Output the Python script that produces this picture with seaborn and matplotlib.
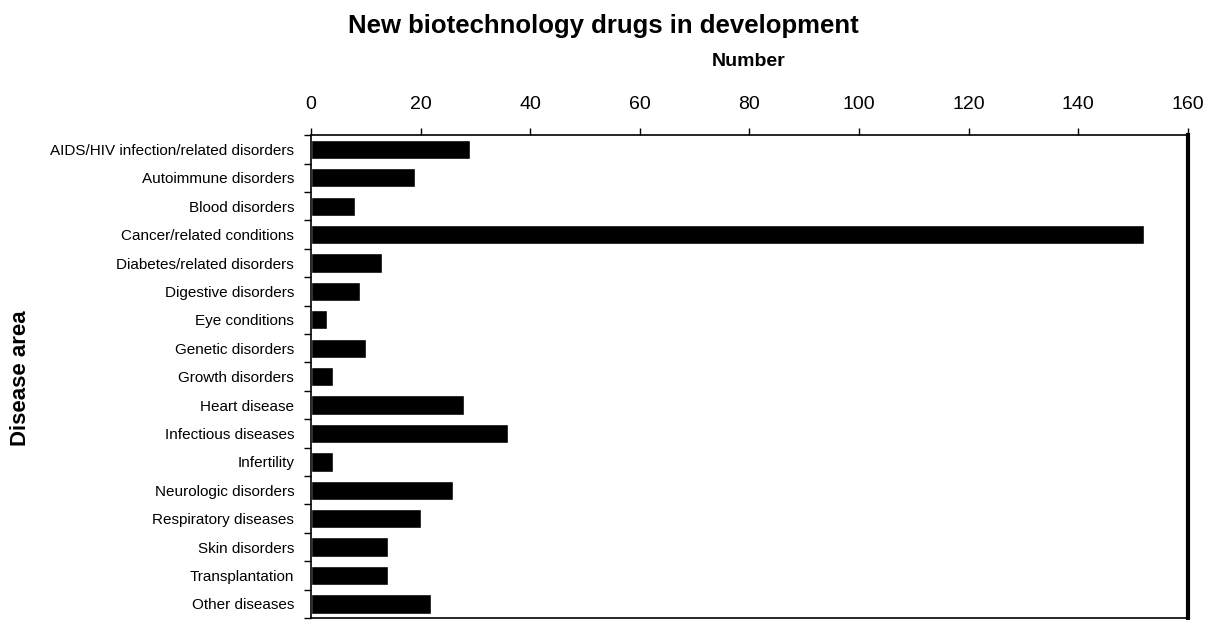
import numpy as np
import pandas as pd
import matplotlib
matplotlib.use('Agg')
import matplotlib.pyplot as plt
import seaborn as sns

# data
diseases = [
    'AIDS/HIV infection/related disorders',
    'Autoimmune disorders',
    'Blood disorders',
    'Cancer/related conditions',
    'Diabetes/related disorders',
    'Digestive disorders',
    'Eye conditions',
    'Genetic disorders',
    'Growth disorders',
    'Heart disease',
    'Infectious diseases',
    'Infertility',
    'Neurologic disorders',
    'Respiratory diseases',
    'Skin disorders',
    'Transplantation',
    'Other diseases',
]
counts = [29, 19, 8, 152, 13, 9, 3, 10, 4, 28, 36, 4, 26, 20, 14, 14, 22]
xticks = [0, 20, 40, 60, 80, 100, 120, 140, 160]

df = pd.DataFrame({'disease': diseases, 'count': counts})

sns.set_theme(style='white')
plt.rcParams['font.family'] = ['Liberation Sans', 'DejaVu Sans']
plt.rcParams['text.color'] = 'black'
plt.rcParams['xtick.color'] = 'black'
plt.rcParams['ytick.color'] = 'black'

fig = plt.figure(figsize=(12.24, 6.2), dpi=100)
ax = fig.add_axes([0.254, 0.003, 0.7166, 0.779])

sns.barplot(data=df, x='count', y='disease', orient='h', color='black',
            width=0.68, saturation=1, ax=ax)

ax.set_xlim(0, 160)
ax.set_ylim(len(diseases) - 0.5, -0.5)
ax.set_facecolor('white')

# x axis on top
ax.xaxis.set_ticks_position('top')
ax.set_xticks(xticks)
ax.set_xticklabels([str(t) for t in xticks], fontsize=14)
ax.tick_params(axis='x', which='major', direction='out', length=5, width=1,
               color='black', labelcolor='black', pad=11, top=True, bottom=False)
ax.set_xlabel('')
ax.set_ylabel('')

# category labels, ticks between categories
ax.set_yticks(range(len(diseases)))
ax.set_yticklabels(diseases, fontsize=11)
ax.set_yticks(np.arange(-0.5, len(diseases), 1.0), minor=True)
ax.tick_params(axis='y', which='major', length=0, pad=12, labelcolor='black')
ax.tick_params(axis='y', which='minor', direction='out', length=5, width=1,
               color='black', left=True)

for side in ['left', 'top', 'bottom']:
    ax.spines[side].set_color('black')
    ax.spines[side].set_linewidth(1.2)
ax.spines['right'].set_color('black')
ax.spines['right'].set_linewidth(3)

fig.text(0.493, 0.958, 'New biotechnology drugs in development',
         ha='center', va='center', fontsize=18.5, fontweight='bold')
fig.text(0.612, 0.900, 'Number', ha='center', va='center',
         fontsize=14, fontweight='bold')
fig.text(0.017, 0.39, 'Disease area', ha='center', va='center',
         rotation=90, fontsize=16, fontweight='bold')

fig.savefig('out.png', dpi=100, facecolor='white')
plt.close(fig)
